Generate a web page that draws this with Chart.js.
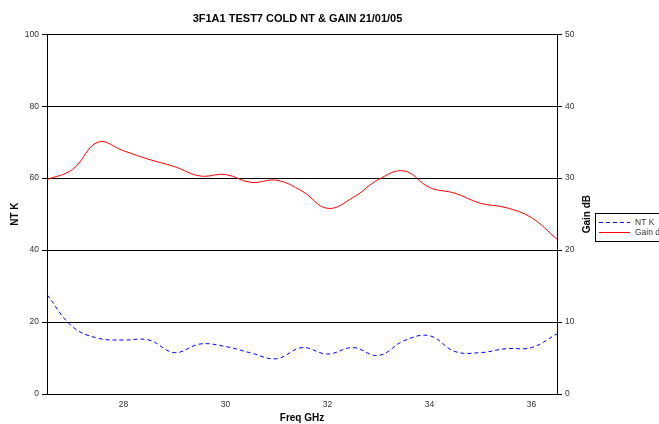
<!DOCTYPE html>
<html>
<head>
<meta charset="utf-8">
<script src="https://cdn.jsdelivr.net/npm/chart.js@4.4.1/dist/chart.umd.min.js"></script>
<style>
  html, body { margin:0; padding:0; background:#fff; }
  #wrap { width:659px; height:424px; }
</style>
</head>
<body>
<div id="wrap"><canvas id="chartNT"></canvas></div>
<script>
// ── Datos ─────────────────────────────────────────────────────────────────────
const FREQ   = [26.5, 27, 27.5, 28, 28.5, 29, 29.5, 30, 30.5, 31, 31.5, 32, 32.5, 33, 33.5, 34, 34.5, 35, 35.5, 36, 36.5];
const NT_K   = [27.6, 18.7, 15.5, 15.0, 15.0, 11.5, 13.9, 13.2, 11.4, 9.8, 12.9, 11.1, 12.9, 10.7, 14.8, 16.2, 11.8, 11.5, 12.6, 12.9, 16.7];
const GAIN   = [29.8, 31.2, 35.0, 33.8, 32.6, 31.6, 30.3, 30.5, 29.4, 29.7, 28.2, 25.8, 27.3, 29.8, 31.0, 28.7, 27.9, 26.5, 25.9, 24.5, 21.5];
const XTICKS = [28, 30, 32, 34, 36];

const FONT = 'Liberation Sans, Arial, sans-serif';
const txt  = '#333333';

// ── Leyenda con recuadro y título derecho (rotado hacia arriba) ──────────────
const extras = { id:'extras', afterDraw(chart) {
    const {ctx, chartArea} = chart;
    ctx.save();
    // título eje derecho
    ctx.font = 'bold 10px ' + FONT;
    ctx.fillStyle = '#000';
    ctx.textAlign = 'center';
    ctx.textBaseline = 'middle';
    ctx.translate(587, (chartArea.top + chartArea.bottom) / 2);
    ctx.rotate(-Math.PI / 2);
    ctx.fillText('Gain dB', 0, 0);
    ctx.restore();

    ctx.save();
    ctx.strokeStyle = '#000';
    ctx.lineWidth = 1;
    ctx.strokeRect(595.5, 213.5, 80, 28);
    ctx.font = '8.5px ' + FONT;
    ctx.fillStyle = txt;
    ctx.textBaseline = 'middle';
    ctx.textAlign = 'left';
    chart.data.datasets.forEach((ds, i) => {
        const y = 222.5 + i * 10;
        ctx.beginPath();
        ctx.strokeStyle = ds.borderColor;
        ctx.setLineDash(ds.borderDash || []);
        ctx.moveTo(599, y); ctx.lineTo(630, y);
        ctx.stroke();
        ctx.setLineDash([]);
        ctx.fillText(ds.label, 635, y);
    });
    ctx.restore();
}};

new Chart(document.getElementById('chartNT'), {
    type:'line',
    data:{
        datasets:[
            { label:'NT K', data:FREQ.map((f,i) => ({x:f, y:NT_K[i]})), borderColor:'#0000FF', borderWidth:1, borderDash:[4,3],
              pointRadius:0, tension:0.4, fill:false, yAxisID:'y' },
            { label:'Gain dB', data:FREQ.map((f,i) => ({x:f, y:GAIN[i]})), borderColor:'#FF0000', borderWidth:1,
              pointRadius:0, tension:0.4, fill:false, yAxisID:'y1' }
        ]
    },
    options:{
        responsive:true, maintainAspectRatio:false, animation:false,
        layout:{ padding:{ left:0, right:64, top:0, bottom:0 } },
        plugins:{
            legend:{ display:false }, tooltip:{ enabled:false },
            title:{ display:true, text:'3F1A1 TEST7 COLD NT & GAIN 21/01/05', color:'#000',
                    font:{ family:FONT, size:11, weight:'bold' }, padding:{ top:12, bottom:9 } }
        },
        scales:{
            x:{ type:'linear', min:26.5, max:36.5,
                afterBuildTicks: s => { s.ticks = XTICKS.map(v => ({value:v})); },
                afterFit: s => { s.height = 30; },
                grid:{ display:false, drawTicks:false }, border:{ color:'#000', width:1 },
                ticks:{ font:{ family:FONT, size:8.5 }, color:txt, padding:6, maxRotation:0 },
                title:{ display:true, text:'Freq GHz', color:'#000', font:{ family:FONT, size:10, weight:'bold' }, padding:{ top:0, bottom:0 } } },
            y:{ position:'left', min:0, max:100,
                afterFit: s => { s.width = 47; },
                grid:{ color:'#000', lineWidth:1, tickLength:5 }, border:{ color:'#000', width:1 },
                ticks:{ stepSize:20, font:{ family:FONT, size:8.5 }, color:txt, padding:3 },
                title:{ display:true, text:'NT K', color:'#000', font:{ family:FONT, size:10, weight:'bold' }, padding:{ top:9, bottom:0 } } },
            y1:{ position:'right', min:0, max:50,
                afterFit: s => { s.width = 38; },
                grid:{ drawOnChartArea:false, color:'#000', tickLength:5 }, border:{ color:'#000', width:1 },
                ticks:{ stepSize:10, font:{ family:FONT, size:8.5 }, color:txt, padding:3 } }
        }
    },
    plugins:[extras]
});
</script>
</body>
</html>
